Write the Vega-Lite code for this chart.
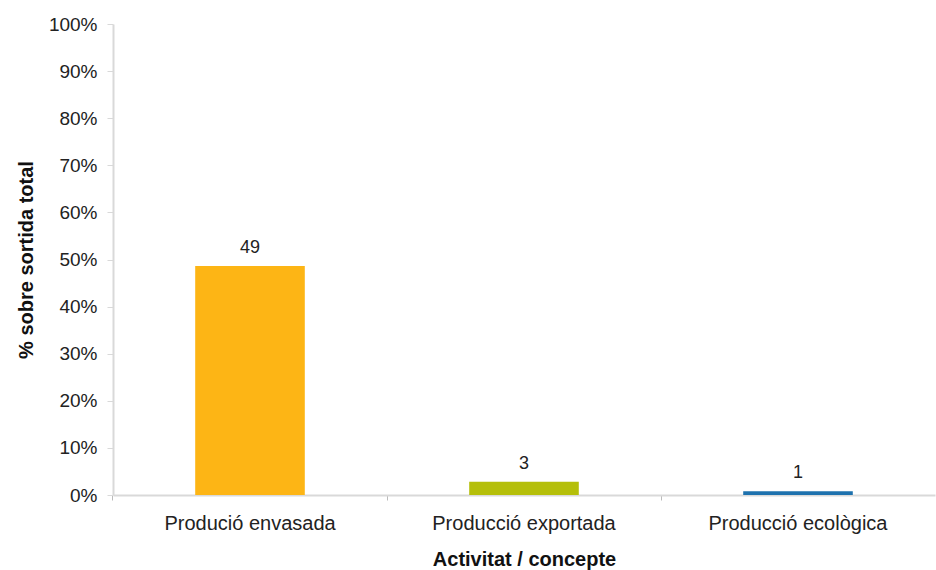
{
  "$schema": "https://vega.github.io/schema/vega-lite/v6.json",
  "autosize": "none",
  "width": 822,
  "height": 471,
  "padding": {"left": 113, "top": 24, "right": 1, "bottom": 75},
  "background": "white",
  "config": {
    "view": {"stroke": null},
    "font": "Liberation Sans",
    "axis": {"labelFont": "Liberation Sans", "titleFont": "Liberation Sans", "labelColor": "#222222", "titleColor": "#111111"}
  },
  "data": {
    "values": [
      {"concepte": "Produció envasada", "valor": 48.6, "etiqueta": 49},
      {"concepte": "Producció exportada", "valor": 2.8, "etiqueta": 3},
      {"concepte": "Producció ecològica", "valor": 0.8, "etiqueta": 1}
    ]
  },
  "encoding": {
    "x": {
      "field": "concepte",
      "type": "nominal",
      "sort": null,
      "scale": {"paddingInner": 0.6, "paddingOuter": 0.3},
      "axis": {
        "title": "Activitat / concepte",
        "titleFontSize": 20,
        "titleFontWeight": "bold",
        "titlePadding": 16,
        "labelAngle": 0,
        "labelFontSize": 20,
        "labelLimit": 300,
        "labelPadding": 13,
        "domainColor": "#d9d9d9",
        "domainWidth": 2,
        "tickColor": "#bbbbbb",
        "tickSize": 5,
        "bandPosition": -0.75,
        "labelOffset": 0
      }
    },
    "y": {
      "field": "valor",
      "type": "quantitative",
      "scale": {"domain": [0, 100]},
      "axis": {
        "title": "% sobre sortida total",
        "titleFontSize": 20,
        "titleFontWeight": "bold",
        "titlePadding": 12,
        "values": [0, 10, 20, 30, 40, 50, 60, 70, 80, 90, 100],
        "labelExpr": "datum.value + '%'",
        "labelFontSize": 19,
        "labelPadding": 10,
        "domainColor": "#d9d9d9",
        "domainWidth": 2,
        "tickColor": "#d9d9d9",
        "tickSize": 6,
        "grid": false
      }
    }
  },
  "layer": [
    {
      "mark": {"type": "bar"},
      "encoding": {
        "color": {
          "field": "concepte",
          "type": "nominal",
          "scale": {
            "domain": ["Produció envasada", "Producció exportada", "Producció ecològica"],
            "range": ["#FDB515", "#B5BF0A", "#1E72AE"]
          },
          "legend": null
        }
      }
    },
    {
      "mark": {"type": "text", "dy": -18, "fontSize": 18, "color": "#222222"},
      "encoding": {"text": {"field": "etiqueta", "type": "quantitative"}}
    }
  ]
}
